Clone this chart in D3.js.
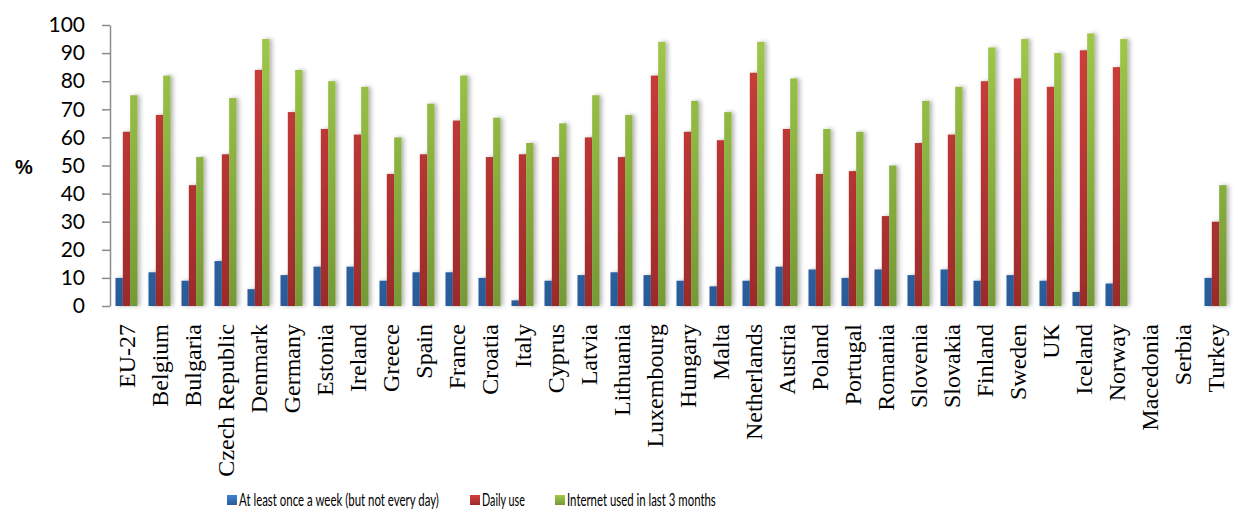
<!DOCTYPE html>
<html>
<head>
<meta charset="utf-8">
<script src="https://cdn.jsdelivr.net/npm/d3@7"></script>
<style>
  html, body { margin: 0; padding: 0; background: #fff; }
  svg { display: block; }
</style>
</head>
<body>
<svg id="chart" width="1233" height="510"></svg>
<script>
// Internet use by country (% of individuals)
const categories = ["EU-27", "Belgium", "Bulgaria", "Czech Republic", "Denmark", "Germany",
  "Estonia", "Ireland", "Greece", "Spain", "France", "Croatia", "Italy", "Cyprus", "Latvia",
  "Lithuania", "Luxembourg", "Hungary", "Malta", "Netherlands", "Austria", "Poland", "Portugal",
  "Romania", "Slovenia", "Slovakia", "Finland", "Sweden", "UK", "Iceland", "Norway",
  "Macedonia", "Serbia", "Turkey"];

const weeklyUse = [10, 12, 9, 16, 6, 11, 14, 14, 9, 12, 12, 10, 2, 9, 11, 12, 11, 9, 7, 9, 14,
  13, 10, 13, 11, 13, 9, 11, 9, 5, 8, null, null, 10];

const dailyUse = [62, 68, 43, 54, 84, 69, 63, 61, 47, 54, 66, 53, 54, 53, 60, 53, 82, 62, 59, 83,
  63, 47, 48, 32, 58, 61, 80, 81, 78, 91, 85, null, null, 30];

const usedLast3Months = [75, 82, 53, 74, 95, 84, 80, 78, 60, 72, 82, 67, 58, 65, 75, 68, 94, 73,
  69, 94, 81, 63, 62, 50, 73, 78, 92, 95, 90, 97, 95, null, null, 43];

const yTicks = [0, 10, 20, 30, 40, 50, 60, 70, 80, 90, 100];

const seriesNames = ["At least once a week (but not every day)", "Daily use", "Internet used in last 3 months"];

const series = [
  { name: seriesNames[0], values: weeklyUse, top: "#3f84d2", bottom: "#2a5a98", key: "blue" },
  { name: seriesNames[1], values: dailyUse, top: "#d33f3c", bottom: "#9c2b2b", key: "red" },
  { name: seriesNames[2], values: usedLast3Months, top: "#a0c94a", bottom: "#759936", key: "green" }
];

const svg = d3.select("#chart");
const plotLeft = 110, plotRight = 1232, plotTop = 25, plotBottom = 306;

const x = d3.scaleBand().domain(categories).range([plotLeft, plotRight]).paddingInner(0).paddingOuter(0);
const xs = d3.scaleBand().domain(series.map(s => s.key)).range([0, x.bandwidth()])
  .paddingInner(0).paddingOuter(0.75);
const y = d3.scaleLinear().domain([0, 100]).range([plotBottom, plotTop]);

const defs = svg.append("defs");
series.forEach(s => {
  const g = defs.append("linearGradient")
    .attr("id", "grad-" + s.key)
    .attr("gradientUnits", "userSpaceOnUse")
    .attr("x1", 0).attr("x2", 0).attr("y1", plotTop).attr("y2", plotBottom);
  g.append("stop").attr("offset", "0%").attr("stop-color", s.top);
  g.append("stop").attr("offset", "100%").attr("stop-color", s.bottom);
  const lg = defs.append("linearGradient").attr("id", "leg-" + s.key)
    .attr("x1", 0).attr("x2", 0).attr("y1", 0).attr("y2", 1);
  lg.append("stop").attr("offset", "0%").attr("stop-color", s.top);
  lg.append("stop").attr("offset", "100%").attr("stop-color", s.bottom);
});
const shadow = defs.append("filter").attr("id", "shadow")
  .attr("x", "-50%").attr("y", "-10%").attr("width", "200%").attr("height", "130%");
shadow.append("feDropShadow").attr("dx", 2.5).attr("dy", 0).attr("stdDeviation", 2)
  .attr("flood-color", "#000").attr("flood-opacity", 0.3);
const axShadow = defs.append("filter").attr("id", "axshadow")
  .attr("x", "-5%").attr("y", "-200%").attr("width", "110%").attr("height", "500%");
axShadow.append("feDropShadow").attr("dx", 0).attr("dy", 2).attr("stdDeviation", 1.2)
  .attr("flood-color", "#000").attr("flood-opacity", 0.35);

// Bars
const groups = svg.append("g").selectAll("g")
  .data(series).join("g")
  .attr("fill", s => `url(#grad-${s.key})`)
  .attr("filter", "url(#shadow)");

groups.selectAll("rect")
  .data(s => s.values.map((v, i) => ({ v, c: categories[i], key: s.key })).filter(d => d.v != null))
  .join("rect")
  .attr("x", d => x(d.c) + xs(d.key))
  .attr("width", xs.bandwidth())
  .attr("y", d => y(d.v))
  .attr("height", d => y(0) - y(d.v));

// Y axis
const yAxis = d3.axisLeft(y).tickValues(yTicks).tickSize(8).tickSizeOuter(0).tickPadding(17);
const yg = svg.append("g").attr("transform", `translate(${plotLeft},0)`).call(yAxis);
yg.select(".domain").attr("stroke", "#8c8c8c").attr("stroke-width", 1.5);
yg.selectAll(".tick line").attr("stroke", "#8c8c8c").attr("stroke-width", 1.5);
yg.selectAll(".tick text")
  .attr("font-family", "Lato, 'Liberation Sans', sans-serif")
  .attr("font-size", 21)
  .attr("fill", "#000");

// X axis
const xAxis = d3.axisBottom(x).tickSize(0).tickSizeOuter(0);
const xg = svg.append("g").attr("transform", `translate(0,${plotBottom})`).call(xAxis);
xg.select(".domain").attr("stroke", "#8c8c8c").attr("stroke-width", 1.5).attr("filter", "url(#axshadow)");
xg.selectAll(".tick text")
  .attr("font-family", "'Liberation Serif', 'Times New Roman', serif")
  .attr("font-size", 24)
  .attr("fill", "#000")
  .attr("text-anchor", "end")
  .attr("transform", "rotate(-90)")
  .attr("x", -18)
  .attr("y", 0)
  .attr("dy", "0.35em");

// Axis title
svg.append("text")
  .attr("x", 24).attr("y", 174)
  .attr("text-anchor", "middle")
  .attr("font-family", "'Liberation Sans', Arial, sans-serif")
  .attr("font-weight", "bold")
  .attr("font-size", 20)
  .text("%");

// Legend: condensed labels, each squeezed horizontally to its slot width
const legendX = [227, 470, 555];
const legendW = [200, 43, 149];
const legend = svg.append("g").selectAll("g").data(series).join("g")
  .attr("transform", (d, i) => `translate(${legendX[i]},495)`);
legend.append("rect").attr("width", 10).attr("height", 10)
  .attr("fill", d => `url(#leg-${d.key})`);
legend.append("text")
  .attr("x", 0).attr("y", 0)
  .attr("font-family", "Lato, 'Liberation Sans', sans-serif")
  .attr("font-size", 18)
  .attr("fill", "#000")
  .text(d => d.name)
  .each(function(d, i) {
    const w = this.getComputedTextLength();
    d3.select(this).attr("transform", `translate(12,11) scale(${legendW[i] / w},1)`);
  });
</script>
</body>
</html>
